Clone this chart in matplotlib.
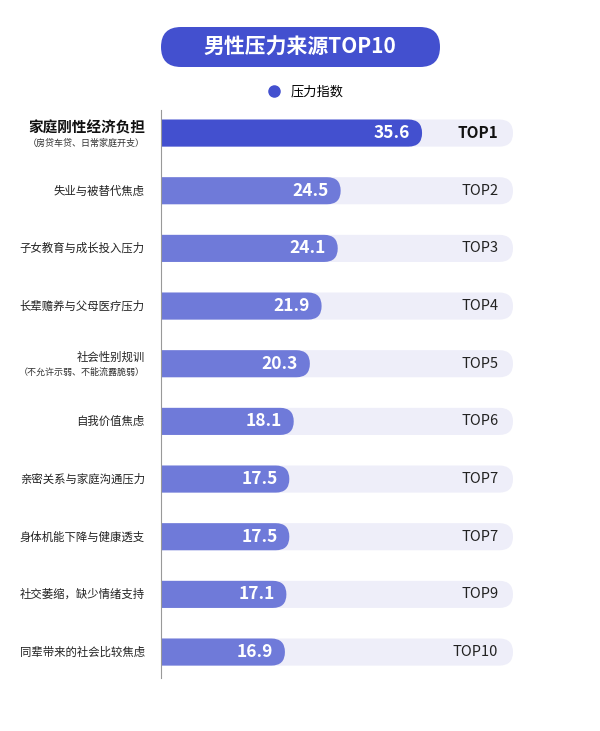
import numpy as np
import matplotlib.pyplot as plt
from matplotlib.patches import FancyBboxPatch
from matplotlib.lines import Line2D

plt.rcParams['font.family'] = ['Noto Sans CJK SC', 'DejaVu Sans']

labels = ['家庭刚性经济负担', '失业与被替代焦虑', '子女教育与成长投入压力', '长辈赡养与父母医疗压力',
          '社会性别规训', '自我价值焦虑', '亲密关系与家庭沟通压力', '身体机能下降与健康透支',
          '社交萎缩，缺少情绪支持', '同辈带来的社会比较焦虑']
notes = ['（房贷车贷、日常家庭开支）', '', '', '', '（不允许示弱、不能流露脆弱）', '', '', '', '', '']
values = [35.6, 24.5, 24.1, 21.9, 20.3, 18.1, 17.5, 17.5, 17.1, 16.9]
ranks = ['TOP1', 'TOP2', 'TOP3', 'TOP4', 'TOP5', 'TOP6', 'TOP7', 'TOP7', 'TOP9', 'TOP10']
track_max = 48.0

dark = '#4350CF'
light = '#6F7AD9'
track = '#EEEEF9'

fig = plt.figure(figsize=(6, 7.31), dpi=100)
fig.patch.set_facecolor('white')

# header pill
pill = FancyBboxPatch((1.61, 6.64), 2.79, 0.40, boxstyle='round,pad=0,rounding_size=0.2',
                      transform=fig.dpi_scale_trans, facecolor=dark, edgecolor='none')
fig.patches.append(pill)
fig.text(3.0, 6.84, '男性压力来源TOP10', transform=fig.dpi_scale_trans, ha='center', va='center',
         color='white', fontsize=15, fontweight='bold')

ax = fig.add_axes([161 / 600, 1 - 678 / 731, (513 - 161) / 600, (678 - 110) / 731])
ax.set_xlim(0, track_max)
ax.set_ylim(9.45, -0.4)

h = 0.47
px_x = (513 - 161) / track_max
px_y = (678 - 110) / 9.85
r = h / 2 * px_y / px_x
asp = (h / 2) / r

for i, v in enumerate(values):
    tb = FancyBboxPatch((-r * 2, i - h / 2), track_max + r * 2, h,
                        boxstyle=f'round,pad=0,rounding_size={r}', mutation_aspect=asp,
                        facecolor=track, edgecolor='none', zorder=1)
    ax.add_patch(tb)
    bb = FancyBboxPatch((-r * 2, i - h / 2), v + r * 2, h,
                        boxstyle=f'round,pad=0,rounding_size={r}', mutation_aspect=asp,
                        facecolor=dark if i == 0 else light, edgecolor='none', zorder=2)
    ax.add_patch(bb)
    ax.text(v - 1.6, i, f'{v:.1f}', ha='right', va='center', color='white',
            fontsize=12.5, fontweight='bold', zorder=3)
    ax.text(46.0, i, ranks[i], ha='right', va='center', color='#111111' if i == 0 else '#222222',
            fontsize=11 if i == 0 else 10.5, fontweight='bold' if i == 0 else 'normal', zorder=3)
    if i == 0:
        ax.text(-2.2, i - 0.1, labels[i], ha='right', va='center', color='#111111',
                fontsize=10.5, fontweight='bold', clip_on=False)
        ax.text(-2.2, i + 0.18, notes[i], ha='right', va='center', color='#333333',
                fontsize=6.5, clip_on=False)
    elif notes[i]:
        ax.text(-2.2, i - 0.12, labels[i], ha='right', va='center', color='#222222',
                fontsize=8.2, clip_on=False)
        ax.text(-2.2, i + 0.15, notes[i], ha='right', va='center', color='#333333',
                fontsize=6.5, clip_on=False)
    else:
        ax.text(-2.2, i, labels[i], ha='right', va='center', color='#222222',
                fontsize=8.2, clip_on=False)

for s in ['top', 'right', 'bottom']:
    ax.spines[s].set_visible(False)
ax.spines['left'].set_color('#999999')
ax.spines['left'].set_linewidth(0.8)
ax.spines['left'].set_zorder(4)
ax.set_xticks([])
ax.set_yticks([])

handle = Line2D([], [], marker='o', linestyle='none', markersize=8,
                markerfacecolor=dark, markeredgecolor=dark)
fig.legend([handle], ['压力指数'], loc='center', bbox_to_anchor=(302 / 600, 1 - 92 / 731),
           frameon=False, fontsize=9.5, handletextpad=0.3)

fig.savefig('out.png', dpi=100, facecolor='white')
